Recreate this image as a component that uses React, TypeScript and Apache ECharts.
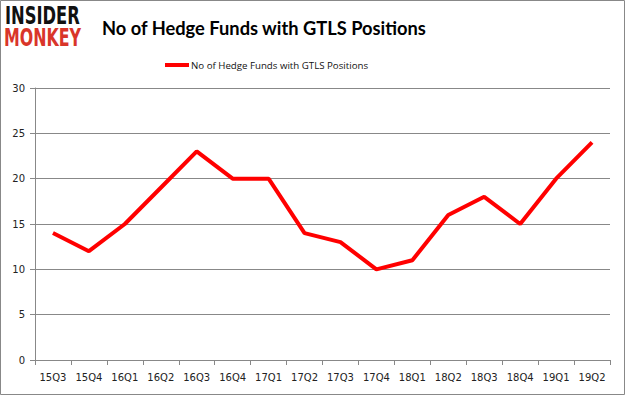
import React, { useEffect, useRef } from "react";
import * as echarts from "echarts";

const categories = ["15Q3","15Q4","16Q1","16Q2","16Q3","16Q4","17Q1","17Q2","17Q3","17Q4","18Q1","18Q2","18Q3","18Q4","19Q1","19Q2"];
const funds = [14,12,15,19,23,20,20,14,13,10,11,16,18,15,20,24];
const seriesName = "No of Hedge Funds with GTLS Positions";
const titleText = "No of Hedge Funds with GTLS Positions";

export default function App() {
  const ref = useRef<HTMLDivElement>(null);
  useEffect(() => {
    const chart = echarts.init(ref.current!, null, { renderer: "svg" });
    chart.setOption({
      animation: false,
      backgroundColor: "#fff",
      title: {
        text: titleText,
        left: 97,
        top: 14,
        textStyle: { fontFamily: "Lato", fontWeight: "bold", fontSize: 18.3, color: "#000" },
      },
      graphic: [
        { type: "rect", shape: { x: 0.5, y: 0.5, width: 624, height: 394 }, style: { fill: "none", stroke: "#888", lineWidth: 1 } },
        { type: "text", x: 5, y: 4, scaleX: 0.68, style: { text: "INSIDER", font: "bold 24px 'DejaVu Sans'", fill: "#111" } },
        { type: "text", x: 4, y: 26, scaleX: 0.66, style: { text: "MONKEY", font: "bold 24px 'DejaVu Sans'", fill: "#d9352a" } },
      ],
      legend: {
        top: 55,
        left: 160,
        data: [seriesName],
        itemWidth: 24,
        itemHeight: 4,
        icon: "rect",
        textStyle: { fontFamily: "Open Sans", fontSize: 9.7, color: "#111", padding: [0, 0, 0, -3] },
      },
      grid: { left: 35, right: 15, top: 88, bottom: 35, containLabel: false },
      xAxis: {
        type: "category",
        data: categories,
        boundaryGap: true,
        axisLine: { lineStyle: { color: "#888" } },
        axisTick: { show: true, lineStyle: { color: "#888" }, length: 5 },
        axisLabel: { fontFamily: "DejaVu Sans", fontSize: 10, color: "#222", margin: 12 },
      },
      yAxis: {
        type: "value",
        min: 0,
        max: 30,
        interval: 5,
        axisLine: { show: true, lineStyle: { color: "#888" } },
        axisTick: { show: true, lineStyle: { color: "#888" }, length: 5 },
        axisLabel: { fontFamily: "DejaVu Sans", fontSize: 10, color: "#222", margin: 10 },
        splitLine: { lineStyle: { color: "#888" } },
      },
      series: [
        {
          name: seriesName,
          type: "line",
          data: funds,
          symbol: "none",
          lineStyle: { color: "#ff0000", width: 4 },
          itemStyle: { color: "#ff0000" },
        },
      ],
    });
    return () => chart.dispose();
  }, []);
  return <div ref={ref} style={{ position: "fixed", left: 0, top: 0, width: 625, height: 395 }} />;
}
